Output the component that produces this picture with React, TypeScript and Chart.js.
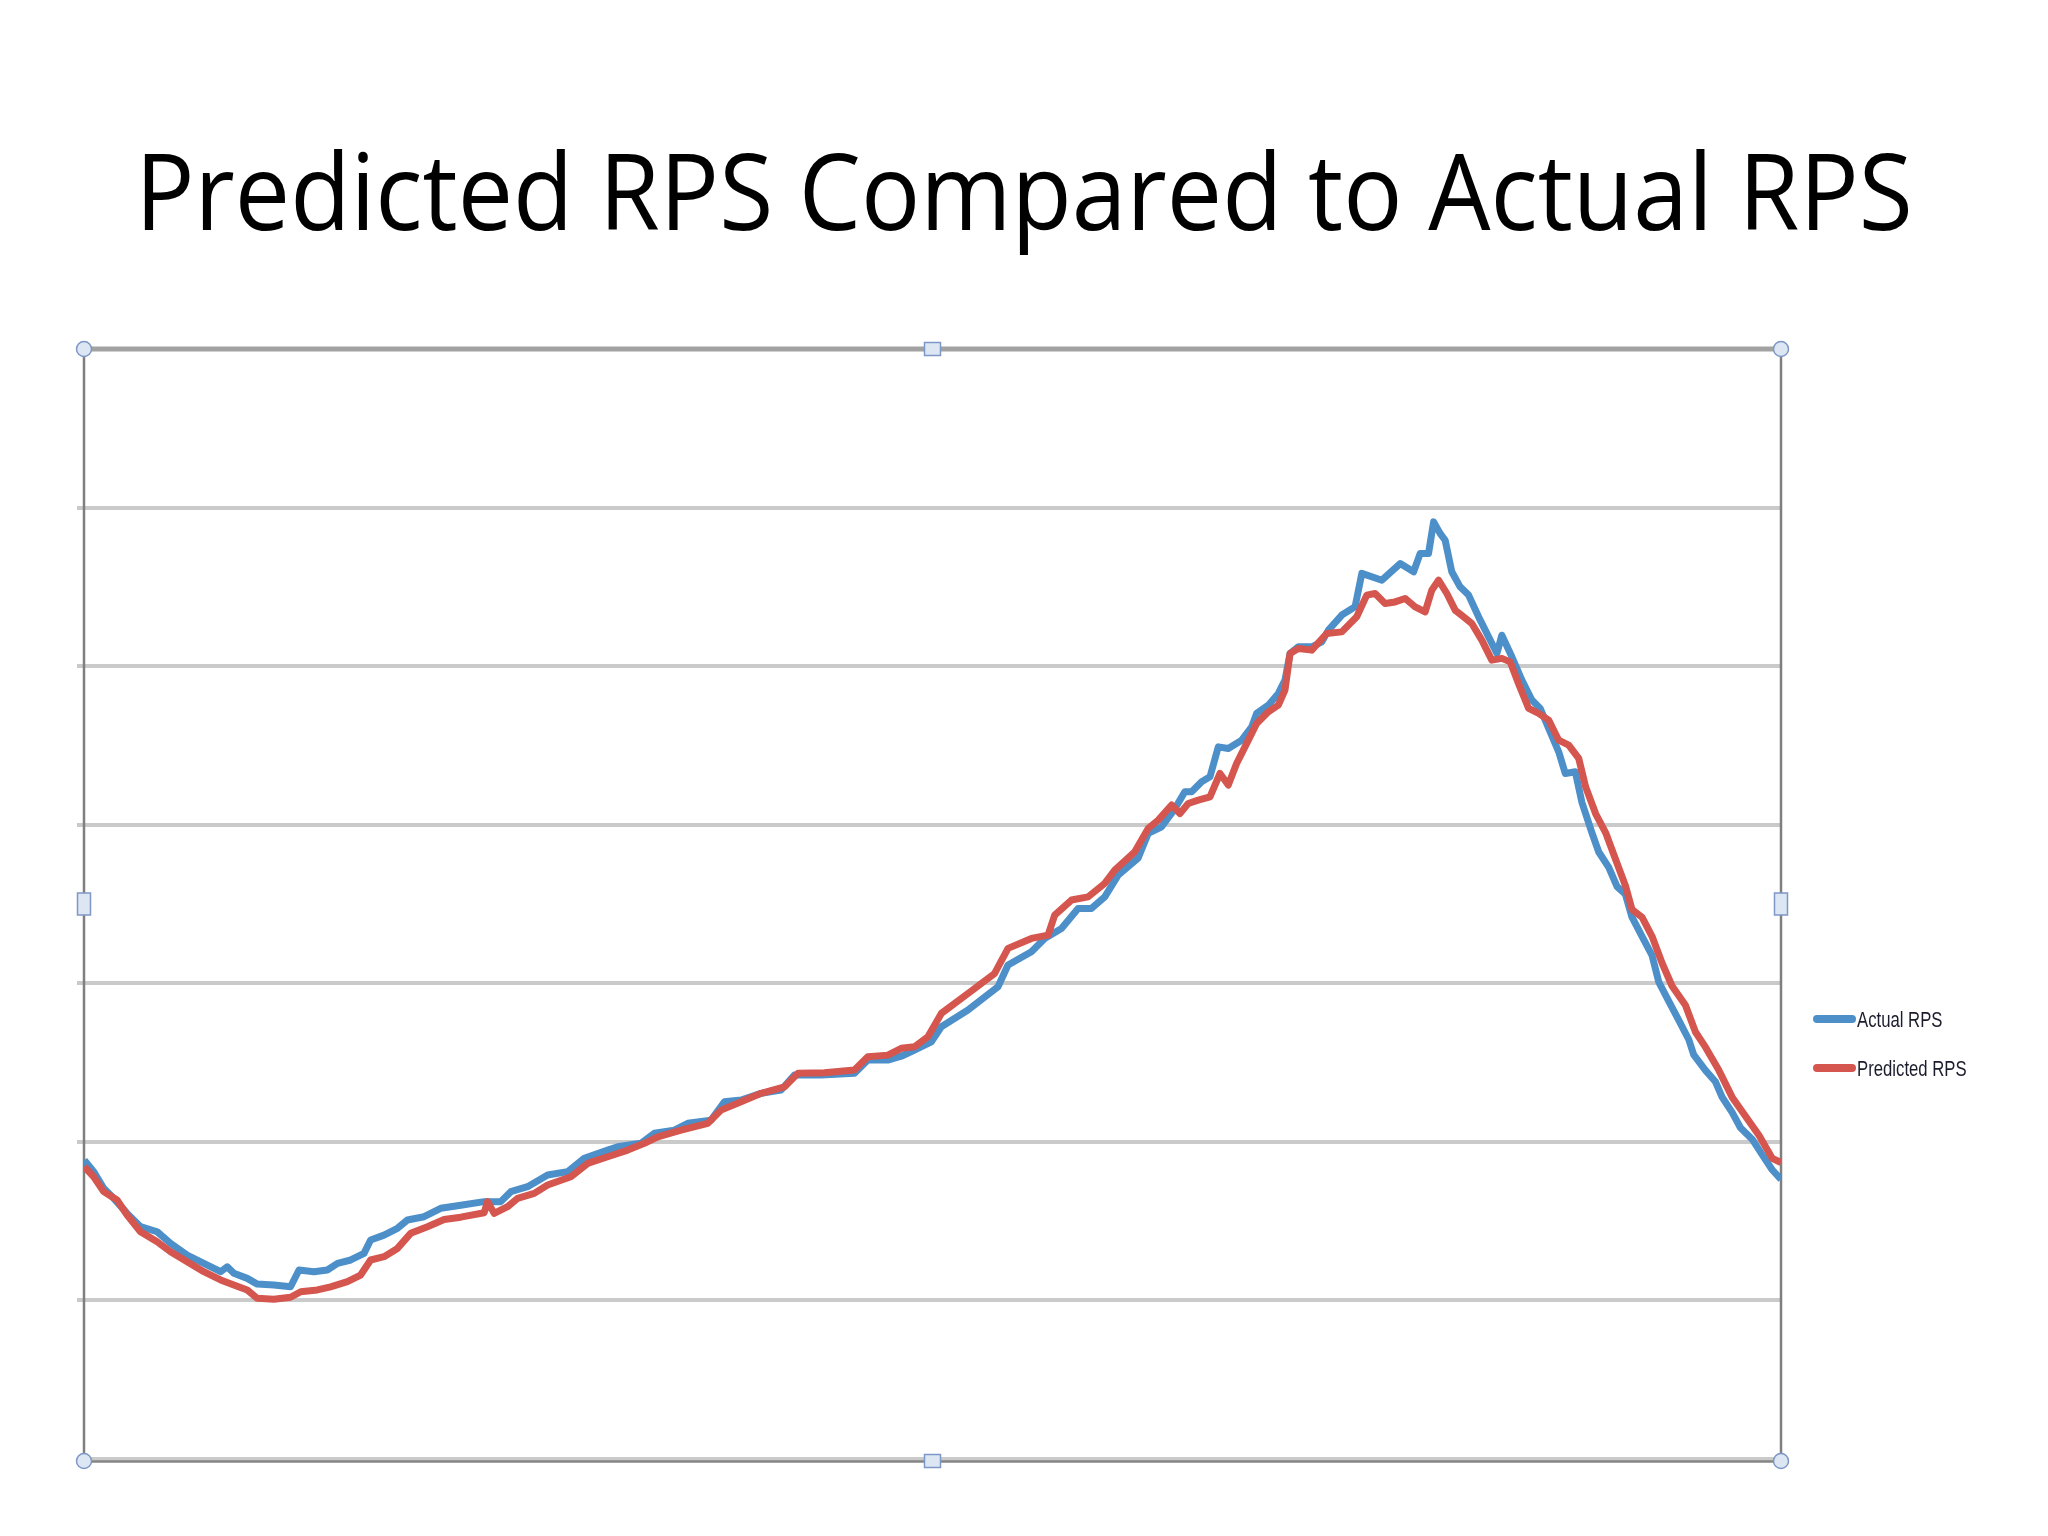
import React, { useEffect, useRef } from "react";
import { Chart, registerables } from "chart.js";

Chart.register(...registerables);

// time index (0..100 across the day) and RPS values in grid units
const timeActual = [
  0.02, 0.57, 1.16, 1.75, 2.54, 3.33, 4.31, 5.1, 6.08, 7.06, 8.05, 8.44, 8.83, 9.62, 10.21, 11.19, 12.17, 12.67,
  13.55, 14.34, 14.94, 15.72, 16.5, 16.89, 17.68, 18.47, 19.06, 20.04, 21.02, 22.2, 23.58, 24.56, 25.15, 26.14,
  27.32, 28.5, 29.48, 30.86, 31.45, 32.82, 33.61, 34.79, 35.58, 36.95, 37.74, 38.72, 39.9, 41.08, 41.86, 43.44,
  45.4, 46.19, 47.37, 48.16, 48.94, 49.93, 50.52, 52.09, 53.86, 54.45, 55.83, 56.61, 57.6, 58.58, 59.37, 60.15,
  60.94, 62.12, 62.71, 63.5, 64.28, 64.87, 65.27, 65.86, 66.35, 66.84, 67.43, 68.22, 68.81, 69.1, 69.79, 70.38,
  70.77, 71.07, 71.56, 72.35, 72.94, 73.33, 74.12, 74.9, 75.3, 76.48, 77.56, 78.35, 78.74, 79.23, 79.53, 79.91,
  80.21, 80.6, 81.09, 81.59, 82.18, 82.77, 83.26, 83.55, 84.14, 84.73, 85.32, 85.81, 86.31, 86.9, 87.29, 87.88,
  88.27, 88.86, 89.26, 89.85, 90.34, 90.83, 91.22, 91.81, 92.4, 92.8, 93.39, 93.98, 94.57, 94.86, 95.55, 96.14,
  96.53, 97.12, 97.61, 98.3, 98.89, 99.48, 100,
];
const actualRps = [
  1.885, 1.812, 1.707, 1.644, 1.549, 1.465, 1.433, 1.36, 1.286, 1.234, 1.181, 1.212, 1.171, 1.139, 1.103, 1.097,
  1.086, 1.192, 1.181, 1.192, 1.234, 1.255, 1.297, 1.381, 1.412, 1.455, 1.507, 1.528, 1.581, 1.6, 1.623, 1.623,
  1.686, 1.717, 1.791, 1.812, 1.896, 1.948, 1.969, 1.991, 2.054, 2.074, 2.117, 2.137, 2.253, 2.264, 2.306, 2.327,
  2.421, 2.421, 2.432, 2.516, 2.516, 2.54, 2.579, 2.631, 2.726, 2.831, 2.978, 3.115, 3.199, 3.283, 3.346, 3.472,
  3.472, 3.545, 3.682, 3.79, 3.945, 3.987, 4.1, 4.208, 4.208, 4.271, 4.302, 4.491, 4.481, 4.533, 4.617, 4.702,
  4.754, 4.828, 4.912, 5.08, 5.122, 5.122, 5.153, 5.227, 5.322, 5.374, 5.585, 5.542, 5.647, 5.595, 5.711, 5.711,
  5.91, 5.837, 5.794, 5.595, 5.5, 5.448, 5.311, 5.185, 5.08, 5.195, 5.059, 4.912, 4.786, 4.733, 4.607, 4.46,
  4.323, 4.334, 4.14, 3.949, 3.828, 3.731, 3.61, 3.562, 3.417, 3.296, 3.176, 3.007, 2.886, 2.766, 2.644, 2.548,
  2.451, 2.379, 2.282, 2.186, 2.089, 2.017, 1.92, 1.824, 1.763,
];

const timePredicted = [
  0.02, 0.57, 1.16, 1.95, 2.54, 3.33, 4.31, 5.1, 6.08, 7.06, 8.05, 8.83, 9.62, 10.21, 11.19, 12.17, 12.77, 13.75,
  14.53, 15.52, 16.3, 16.89, 17.68, 18.47, 19.25, 20.24, 21.22, 22.2, 23.58, 23.78, 24.17, 24.96, 25.55, 26.53,
  27.32, 28.69, 29.68, 30.86, 32.04, 33.02, 33.81, 35.18, 36.76, 37.54, 38.72, 39.9, 41.28, 42.07, 43.63, 45.4,
  46.19, 47.37, 48.16, 48.94, 49.73, 50.52, 52.09, 53.66, 54.45, 55.83, 56.81, 57.2, 58.19, 59.17, 60.15, 60.74,
  61.92, 62.71, 63.3, 64.09, 64.58, 65.07, 65.66, 66.35, 66.94, 67.43, 67.92, 68.22, 68.81, 69.1, 69.79, 70.38,
  70.77, 71.07, 71.56, 72.35, 73.23, 74.12, 75.0, 75.59, 76.08, 76.67, 77.26, 77.85, 78.44, 79.03, 79.42, 79.82,
  80.31, 80.8, 81.29, 81.78, 82.37, 82.96, 83.55, 84.04, 84.53, 85.13, 85.72, 86.31, 86.9, 87.49, 88.08, 88.49,
  89.08, 89.67, 90.26, 90.85, 91.22, 91.81, 92.4, 92.99, 93.58, 94.37, 94.96, 95.55, 96.34, 97.12, 97.91, 98.7,
  99.48, 100,
];
const predictedRps = [
  1.843, 1.78, 1.686, 1.633, 1.539, 1.433, 1.37, 1.307, 1.244, 1.181, 1.129, 1.097, 1.066, 1.013, 1.007, 1.02,
  1.055, 1.066, 1.086, 1.118, 1.16, 1.255, 1.276, 1.328, 1.423, 1.465, 1.51, 1.525, 1.553, 1.623, 1.549, 1.591,
  1.644, 1.675, 1.728, 1.78, 1.864, 1.906, 1.948, 1.991, 2.032, 2.074, 2.117, 2.2, 2.253, 2.306, 2.347, 2.432,
  2.436, 2.453, 2.537, 2.547, 2.59, 2.6, 2.663, 2.81, 2.936, 3.062, 3.22, 3.283, 3.304, 3.43, 3.525, 3.545, 3.63,
  3.714, 3.829, 3.977, 4.029, 4.124, 4.071, 4.134, 4.155, 4.176, 4.323, 4.25, 4.386, 4.45, 4.576, 4.639, 4.712,
  4.754, 4.849, 5.08, 5.111, 5.101, 5.206, 5.216, 5.311, 5.448, 5.458, 5.395, 5.405, 5.427, 5.374, 5.342, 5.479,
  5.542, 5.458, 5.353, 5.311, 5.269, 5.164, 5.038, 5.049, 5.027, 4.891, 4.733, 4.702, 4.66, 4.533, 4.502, 4.418,
  4.238, 4.069, 3.949, 3.779, 3.61, 3.466, 3.417, 3.296, 3.128, 2.983, 2.862, 2.693, 2.597, 2.451, 2.282, 2.161,
  2.041, 1.896, 1.87,
];

const seriesLabels = ["Actual RPS", "Predicted RPS"];
const seriesColors = ["#4d8fc8", "#d4564f"];
const yMin = 0;
const yMax = 7;
const yStep = 1;

const frameAndHandles = {
  id: "frameAndHandles",
  beforeDatasetsDraw(chart: any) {
    const { ctx, chartArea: a } = chart;
    ctx.save();
    ctx.lineCap = "butt";
    ctx.strokeStyle = "#a2a2a2";
    ctx.lineWidth = 5;
    ctx.beginPath();
    ctx.moveTo(a.left, a.top);
    ctx.lineTo(a.right, a.top);
    ctx.stroke();
    ctx.strokeStyle = "#7f7f7f";
    ctx.lineWidth = 2.5;
    ctx.beginPath();
    ctx.moveTo(a.left, a.top);
    ctx.lineTo(a.left, a.bottom + 3);
    ctx.moveTo(a.right, a.top);
    ctx.lineTo(a.right, a.bottom + 3);
    ctx.stroke();
    ctx.strokeStyle = "#858585";
    ctx.lineWidth = 2.5;
    ctx.beginPath();
    ctx.moveTo(a.left, a.bottom + 2.5);
    ctx.lineTo(a.right, a.bottom + 2.5);
    ctx.stroke();
    ctx.restore();
  },
  afterDraw(chart: any) {
    const { ctx, chartArea: a } = chart;
    const cx = (a.left + a.right) / 2;
    const cy = (a.top + a.bottom) / 2;
    ctx.save();
    ctx.fillStyle = "#dde7f4";
    ctx.strokeStyle = "#7d97c6";
    ctx.lineWidth = 1.5;
    const corners = [
      [a.left, a.top],
      [a.right, a.top],
      [a.left, a.bottom + 2],
      [a.right, a.bottom + 2],
    ];
    corners.forEach(([x, y]) => {
      ctx.beginPath();
      ctx.arc(x, y, 7.5, 0, Math.PI * 2);
      ctx.fill();
      ctx.stroke();
    });
    const mids = [
      [cx, a.top, 16, 13],
      [cx, a.bottom + 2, 16, 13],
      [a.left, cy, 13, 22],
      [a.right, cy, 13, 22],
    ];
    mids.forEach(([x, y, w, h]) => {
      ctx.beginPath();
      ctx.rect(x - w / 2, y - h / 2, w, h);
      ctx.fill();
      ctx.stroke();
    });
    ctx.restore();
  },
};

function ChartCanvas() {
  const ref = useRef<HTMLCanvasElement | null>(null);
  useEffect(() => {
    if (!ref.current) return;
    const chart = new Chart(ref.current, {
      type: "line",
      data: {
        datasets: [
          {
            label: seriesLabels[0],
            data: timeActual.map((t, i) => ({ x: t, y: actualRps[i] })),
            borderColor: seriesColors[0],
            backgroundColor: seriesColors[0],
            borderWidth: 7,
            borderJoinStyle: "round",
            pointRadius: 0,
            tension: 0,
            order: 1,
          },
          {
            label: seriesLabels[1],
            data: timePredicted.map((t, i) => ({ x: t, y: predictedRps[i] })),
            borderColor: seriesColors[1],
            backgroundColor: seriesColors[1],
            borderWidth: 7,
            borderJoinStyle: "round",
            pointRadius: 0,
            tension: 0,
            order: 0,
          },
        ],
      },
      options: {
        responsive: false,
        animation: false,
        layout: { padding: { left: 77, right: 267, top: 349, bottom: 77 } },
        plugins: { legend: { display: false }, title: { display: false }, tooltip: { enabled: false } },
        scales: {
          x: { type: "linear", min: 0, max: 100, display: false },
          y: {
            min: yMin,
            max: yMax,
            ticks: { display: false, stepSize: yStep },
            grid: {
              color: (c: any) => (c.tick && c.tick.value === yMax ? "rgba(0,0,0,0)" : "#cacaca"),
              lineWidth: 4,
              tickLength: 7,
            },
            border: { display: false },
            afterFit: (s: any) => {
              s.width = 7;
            },
          },
        },
      },
      plugins: [frameAndHandles],
    });
    return () => chart.destroy();
  }, []);
  return <canvas ref={ref} width={2048} height={1536} style={{ position: "absolute", left: 0, top: 0 }} />;
}

export default function App() {
  const legendFont = "'Liberation Sans', Arial, sans-serif";
  return (
    <div style={{ position: "absolute", left: 0, top: 0, width: 2048, height: 1536, background: "#fff", overflow: "hidden" }}>
      <div
        style={{
          position: "absolute",
          left: 0,
          top: 136,
          width: 2048,
          textAlign: "center",
          fontFamily: "'Open Sans', sans-serif",
          fontSize: 106,
          lineHeight: 1,
          color: "#000",
          whiteSpace: "nowrap",
          transform: "scaleX(0.93)",
          transformOrigin: "50% 50%",
        }}
      >
        Predicted RPS Compared to Actual RPS
      </div>
      <ChartCanvas />
      {seriesLabels.map((lab, i) => (
        <div key={lab} style={{ position: "absolute", left: 1813, top: 1009 + i * 49, height: 22 }}>
          <div
            style={{
              position: "absolute",
              left: 0,
              top: 6,
              width: 43,
              height: 8,
              borderRadius: 4,
              background: seriesColors[i],
            }}
          />
          <div
            style={{
              position: "absolute",
              left: 44,
              top: 0,
              fontFamily: legendFont,
              fontSize: 22,
              lineHeight: 1,
              color: "#1c1c2c",
              whiteSpace: "nowrap",
              transform: "scaleX(0.76)",
              transformOrigin: "0 50%",
            }}
          >
            {lab}
          </div>
        </div>
      ))}
    </div>
  );
}
